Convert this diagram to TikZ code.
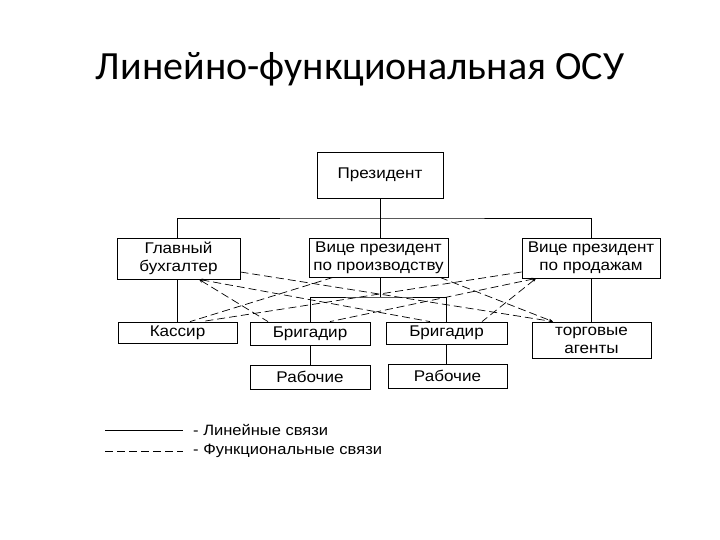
\documentclass[tikz,border=0pt]{standalone}
\usepackage{fontspec}
\setmainfont{Liberation Sans}
\newfontfamily\titlefont{Carlito}
\newfontfamily\diagfont[FakeStretch=1.1]{Liberation Sans}
\usetikzlibrary{arrows.meta,calc}
\begin{document}
\begin{tikzpicture}[x=1pt,y=-1pt,
  box/.style={draw, line width=0.8pt, inner sep=0pt, font=\diagfont\fontsize{15.5}{18}\selectfont, align=center, anchor=center},
  lin/.style={line width=0.8pt},
  func/.style={line width=0.7pt, dash pattern=on 8pt off 4pt},
  tipA/.style={{Stealth[length=4pt,width=3pt]}-},
  tipB/.style={-{Stealth[length=4pt,width=3pt]}},
  legtext/.style={font=\diagfont\fontsize{15}{18}\selectfont, anchor=west, inner sep=0pt}
]
\useasboundingbox (0,0) rectangle (720,540);
\fill[white] (0,0) rectangle (720,540);

\node[font=\titlefont\fontsize{40}{44}\selectfont, anchor=base, inner sep=0pt] (title) at (360,80) {Линейно-функциональная ОСУ};

\node[box, minimum width=126pt, minimum height=46pt] (pres) at (380,175) {Президент};
\node[box, minimum width=123pt, minimum height=41pt] (gb) at (178.5,258.5) {Главный\\бухгалтер};
\node[box, minimum width=139pt, minimum height=39pt] (vpp) at (378.5,257.5) {Вице президент\\по производству};
\node[box, minimum width=138pt, minimum height=40pt] (vps) at (591,258) {Вице президент\\по продажам};
\node[box, minimum width=119pt, minimum height=21pt] (kas) at (177.5,332.5) {Кассир};
\node[box, minimum width=120pt, minimum height=23pt] (br1) at (310,333.5) {Бригадир};
\node[box, minimum width=121pt, minimum height=22pt] (br2) at (446.5,333) {Бригадир};
\node[box, minimum width=119pt, minimum height=36pt] (torg) at (591.5,340) {торговые\\агенты};
\node[box, minimum width=120pt, minimum height=24pt] (rab1) at (310,377) {Рабочие};
\node[box, minimum width=119pt, minimum height=24pt] (rab2) at (447.5,376) {Рабочие};

% line links
\coordinate (j0) at (380,218);
\coordinate (j1) at (380,297);
\draw[lin] (pres.south) -- (j0);
\draw[lin] (gb.north -| 177,0) |- (j0) -| (vps.north);
\draw[lin] (j0) -- (vpp.north -| j0);
\draw[lin] (gb.south -| 177,0) -- (kas.north -| 177,0);
\draw[lin] (vpp.south -| j1) -- (j1);
\draw[lin] (br1.north) |- (j1) -| (br2.north);
\draw[lin] (br1.south) -- (rab1.north -| br1.south);
\draw[lin] (br2.south) -- (rab2.north -| br2.south);
\draw[lin] (vps.south) -- (torg.north -| vps.south);

% functional links
\draw[func,tipB] ($(gb.east)+(0,13.5)$) -- ($(torg.north)+(-38.5,0)$);
\draw[func,tipA] ($(gb.south)+(20.5,0)$) -- ($(br1.north)+(-42,0)$);
\draw[func,tipA] ($(gb.south)+(20.5,0)$) -- ($(br2.north)+(-16.5,0)$);
\draw[func] ($(vpp.south)+(-45.5,0)$) -- ($(kas.north)+(12.5,0)$);
\draw[func,tipB] ($(vpp.south)+(61.5,0)$) -- ($(torg.north)+(-38.5,0)$);
\draw[func] ($(vps.west)+(0,14)$) -- ($(kas.north)+(24,0)$);
\draw[func,tipA] ($(vps.south)+(-55,0)$) -- ($(br1.north)+(20,0)$);
\draw[func,tipA] ($(vps.south)+(-55,0)$) -- ($(br2.north)+(35.5,0)$);

% legend
\coordinate (l1a) at (105,430);
\coordinate (l1b) at (183,430);
\coordinate (l2a) at (105,451);
\coordinate (l2b) at (183,451);
\draw[lin] (l1a) -- (l1b);
\draw[func] (l2a) -- (l2b);
\node[legtext] (t1) at (193,430) {- Линейные связи};
\node[legtext] (t2) at (193,451) {- Функциональные связи};
\end{tikzpicture}
\end{document}
